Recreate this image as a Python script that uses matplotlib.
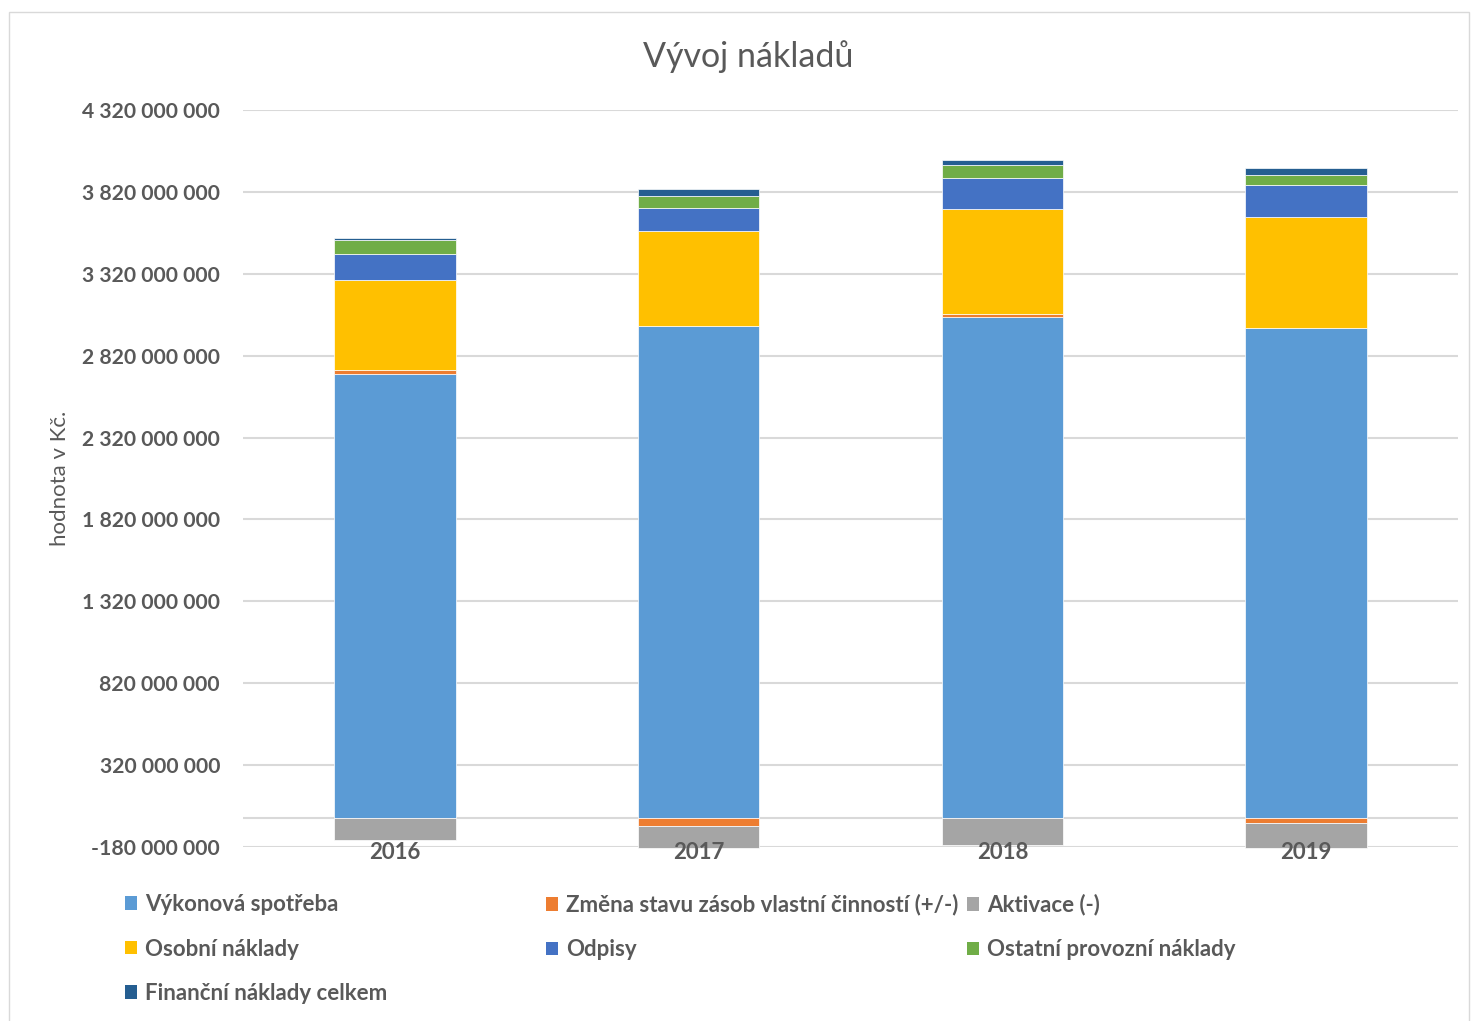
import matplotlib.pyplot as plt
from matplotlib.patches import Patch, Rectangle
import numpy as np

plt.rcParams['font.family'] = ['Lato', 'DejaVu Sans']

roky = ['2016', '2017', '2018', '2019']

# hodnoty v milionech Kč
vykonova_spotreba = [2706, 2999, 3054, 2991]
zmena_stavu = [28, -49, 22, -33]
aktivace = [-137, -137, -167, -153]
osobni_naklady = [546, 582, 639, 674]
odpisy = [159, 142, 191, 195]
ostatni_provozni = [87, 71, 78, 61]
financni_naklady = [14, 41, 32, 43]

nazvy = ['Výkonová spotřeba', 'Změna stavu zásob vlastní činností (+/-)', 'Aktivace (-)',
         'Osobní náklady', 'Odpisy', 'Ostatní provozní náklady', 'Finanční náklady celkem']
barvy = ['#5B9BD5', '#ED7D31', '#A5A5A5', '#FFC000', '#4472C4', '#70AD47', '#255E91']
serie = [vykonova_spotreba, zmena_stavu, aktivace, osobni_naklady, odpisy,
         ostatni_provozni, financni_naklady]

seda = '#595959'
W, H = 1478, 1021
fig = plt.figure(figsize=(W / 100, H / 100), dpi=100)
ax = fig.add_axes([243 / W, 1 - 847 / H, 1215 / W, 737 / H])

ind = np.arange(len(roky))
kladne = np.zeros(len(roky))
zaporne = np.zeros(len(roky))
for vals, barva in zip(serie, barvy):
    v = np.array(vals, dtype=float) * 1e6
    spodek = np.where(v >= 0, kladne, zaporne)
    ax.bar(ind, v, 0.40, bottom=spodek, color=barva, edgecolor='white', linewidth=0.5,
           zorder=2, clip_on=False)
    kladne = kladne + np.where(v >= 0, v, 0)
    zaporne = zaporne + np.where(v < 0, v, 0)

ymin, ymax = -180e6, 4320e6
tiky = np.arange(ymin, ymax + 1, 500e6)
for t in tiky:
    ax.axhline(t, color='#D9D9D9', linewidth=1.5, zorder=0)
ax.axhline(0, color='#D9D9D9', linewidth=1.5, zorder=1)

ax.set_ylim(ymin, ymax)
ax.set_xlim(-0.5, 3.5)
ax.set_yticks(tiky)
ax.set_yticklabels([f'{t:,.0f}'.replace(',', ' ') for t in tiky],
                   fontsize=15.2, fontweight='bold', color=seda)
ax.tick_params(axis='y', length=0, pad=16.5)
ax.set_xticks([])
for s in ax.spines.values():
    s.set_visible(False)

for i, rok in enumerate(roky):
    ax.annotate(rok, xy=(i, ymin), xytext=(0, -5), textcoords='offset pixels',
                ha='center', va='center', fontsize=16, fontweight='bold', color=seda,
                annotation_clip=False, zorder=5)

ax.set_ylabel('hodnota v Kč.', fontsize=16, color=seda)
ax.yaxis.set_label_coords(-0.1424, 0.5)

fig.text(748 / W, 1 - 57 / H, 'Vývoj nákladů', ha='center', va='center',
         fontsize=24.5, color=seda)

# legenda po sloupcích jako v Excelu
sloupce = [[0, 3, 6], [1, 4], [2, 5]]
xpos = [125, 546, 967]
for idx, x in zip(sloupce, xpos):
    handles = [Patch(facecolor=barvy[k], edgecolor='none') for k in idx]
    leg = fig.legend(handles, [nazvy[k] for k in idx], loc='upper left',
                     bbox_to_anchor=(x / W, 1 - 894 / H), frameon=False,
                     prop={'size': 16, 'weight': 'bold'}, handlelength=0.56,
                     handleheight=0.56, handletextpad=0.33, labelspacing=1.06,
                     borderpad=0, borderaxespad=0)
    for t in leg.get_texts():
        t.set_color(seda)

fig.patches.append(Rectangle((9 / W, -0.01), 1460 / W, (H - 12) / H + 0.01,
                             transform=fig.transFigure, fill=False,
                             edgecolor='#D9D9D9', linewidth=1))

fig.savefig('out.png', dpi=100)
